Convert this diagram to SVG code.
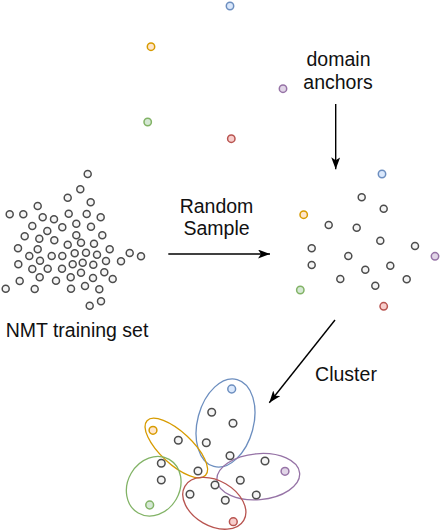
<svg xmlns="http://www.w3.org/2000/svg" width="440" height="530" viewBox="0 0 440 530">
<style>
.d{fill:#f5f5f5;stroke:#4d4d4d;stroke-width:1.5}
.b{fill:#dae8fc;stroke:#6c8ebf;stroke-width:1.5}
.o{fill:#ffe6cc;stroke:#d79b00;stroke-width:1.5}
.p{fill:#e1d5e7;stroke:#9673a6;stroke-width:1.5}
.g{fill:#d5e8d4;stroke:#82b366;stroke-width:1.5}
.r{fill:#f8cecc;stroke:#b85450;stroke-width:1.5}
.e{fill:none;stroke-width:1.3}
.t{font-family:"Liberation Sans",Arial,sans-serif;font-size:19.5px;fill:#111;text-anchor:middle}
.a{stroke:#000;stroke-width:1.4;fill:none;marker-end:url(#ah)}
</style>
<defs>
<marker id="ah" markerUnits="userSpaceOnUse" markerWidth="13" markerHeight="10" refX="12" refY="4.5" orient="auto">
<path d="M0,0 L12,4.5 L0,9 L3,4.5 Z" fill="#000"/>
</marker>
</defs>

<g id="training-set">
<circle class="d" cx="87.7" cy="174" r="3.5"/>
<circle class="d" cx="80.3" cy="189.3" r="3.5"/>
<circle class="d" cx="67.7" cy="197.7" r="3.5"/>
<circle class="d" cx="90.7" cy="202.3" r="3.5"/>
<circle class="d" cx="37.7" cy="206" r="3.5"/>
<circle class="d" cx="9.7" cy="214.3" r="3.5"/>
<circle class="d" cx="23.3" cy="214.3" r="3.5"/>
<circle class="d" cx="42.7" cy="217.3" r="3.5"/>
<circle class="d" cx="54" cy="219.3" r="3.5"/>
<circle class="d" cx="68.7" cy="213.7" r="3.5"/>
<circle class="d" cx="86.7" cy="214" r="3.5"/>
<circle class="d" cx="100.7" cy="217.3" r="3.5"/>
<circle class="d" cx="32.3" cy="226" r="3.5"/>
<circle class="d" cx="62.3" cy="227.3" r="3.5"/>
<circle class="d" cx="76.3" cy="223.7" r="3.5"/>
<circle class="d" cx="91" cy="226.7" r="3.5"/>
<circle class="d" cx="47.3" cy="231" r="3.5"/>
<circle class="d" cx="24.7" cy="236.3" r="3.5"/>
<circle class="d" cx="39.3" cy="238.7" r="3.5"/>
<circle class="d" cx="54.3" cy="240.3" r="3.5"/>
<circle class="d" cx="76.3" cy="235.3" r="3.5"/>
<circle class="d" cx="102.3" cy="235.3" r="3.5"/>
<circle class="d" cx="18" cy="248.3" r="3.5"/>
<circle class="d" cx="37.7" cy="249.3" r="3.5"/>
<circle class="d" cx="67.7" cy="244.7" r="3.5"/>
<circle class="d" cx="81" cy="242.7" r="3.5"/>
<circle class="d" cx="94" cy="243.7" r="3.5"/>
<circle class="d" cx="29.3" cy="256" r="3.5"/>
<circle class="d" cx="74.7" cy="253.3" r="3.5"/>
<circle class="d" cx="86" cy="252.7" r="3.5"/>
<circle class="d" cx="97" cy="254.7" r="3.5"/>
<circle class="d" cx="109.7" cy="249.3" r="3.5"/>
<circle class="d" cx="129.7" cy="253" r="3.5"/>
<circle class="d" cx="141" cy="256.3" r="3.5"/>
<circle class="d" cx="51.7" cy="256" r="3.5"/>
<circle class="d" cx="62.3" cy="256" r="3.5"/>
<circle class="d" cx="40" cy="260.7" r="3.5"/>
<circle class="d" cx="18.3" cy="264.3" r="3.5"/>
<circle class="d" cx="32.3" cy="269" r="3.5"/>
<circle class="d" cx="47.7" cy="268.7" r="3.5"/>
<circle class="d" cx="62" cy="268.7" r="3.5"/>
<circle class="d" cx="72.7" cy="264.3" r="3.5"/>
<circle class="d" cx="82.7" cy="262.7" r="3.5"/>
<circle class="d" cx="93.3" cy="264.7" r="3.5"/>
<circle class="d" cx="106" cy="261" r="3.5"/>
<circle class="d" cx="121" cy="261.3" r="3.5"/>
<circle class="d" cx="81" cy="272.7" r="3.5"/>
<circle class="d" cx="104.3" cy="272.3" r="3.5"/>
<circle class="d" cx="39.7" cy="277.3" r="3.5"/>
<circle class="d" cx="56" cy="280.7" r="3.5"/>
<circle class="d" cx="70.7" cy="277.3" r="3.5"/>
<circle class="d" cx="93" cy="278" r="3.5"/>
<circle class="d" cx="112.7" cy="279" r="3.5"/>
<circle class="d" cx="19.7" cy="281" r="3.5"/>
<circle class="d" cx="5.7" cy="288.7" r="3.5"/>
<circle class="d" cx="34.7" cy="289" r="3.5"/>
<circle class="d" cx="71" cy="288.7" r="3.5"/>
<circle class="d" cx="85" cy="286" r="3.5"/>
<circle class="d" cx="99.3" cy="289.3" r="3.5"/>
<circle class="d" cx="101" cy="301.3" r="3.5"/>
<circle class="d" cx="89.7" cy="305.7" r="3.5"/>
<text class="t" x="77" y="336.7">NMT training set</text>
</g>

<g id="domain-anchors">
<circle class="b" cx="230" cy="6" r="3.7"/>
<circle class="o" cx="151" cy="46.7" r="3.7"/>
<circle class="p" cx="283" cy="88.7" r="3.7"/>
<circle class="g" cx="147.7" cy="122" r="3.7"/>
<circle class="r" cx="231.3" cy="138.7" r="3.7"/>
<text class="t" x="338.5" y="65.7">domain</text>
<text class="t" x="338" y="89.3">anchors</text>
</g>

<g id="sample">
<circle class="b" cx="382" cy="174" r="3.7"/>
<circle class="d" cx="361.7" cy="197.3" r="3.5"/>
<circle class="d" cx="383.7" cy="208.7" r="3.5"/>
<circle class="o" cx="303.7" cy="214.7" r="3.7"/>
<circle class="d" cx="328.7" cy="225" r="3.5"/>
<circle class="d" cx="356.7" cy="227.7" r="3.5"/>
<circle class="d" cx="380.3" cy="240.7" r="3.5"/>
<circle class="d" cx="415" cy="246" r="3.5"/>
<circle class="p" cx="435" cy="256.3" r="3.7"/>
<circle class="d" cx="311.7" cy="248.3" r="3.5"/>
<circle class="d" cx="348.3" cy="256" r="3.5"/>
<circle class="d" cx="311.7" cy="265" r="3.5"/>
<circle class="d" cx="390.3" cy="265.7" r="3.5"/>
<circle class="d" cx="365.3" cy="269.7" r="3.5"/>
<circle class="d" cx="340.3" cy="279" r="3.5"/>
<circle class="d" cx="406.7" cy="279.3" r="3.5"/>
<circle class="d" cx="375.3" cy="285.7" r="3.5"/>
<circle class="g" cx="300.3" cy="290" r="3.7"/>
<circle class="r" cx="383.7" cy="306.3" r="3.7"/>
</g>

<g id="clusters">
<ellipse class="e" stroke="#6c8ebf" cx="225.5" cy="423" rx="28" ry="45" transform="rotate(15 225.5 423)"/>
<ellipse class="e" stroke="#d79b00" cx="176.3" cy="448" rx="40" ry="16" transform="rotate(43 176.3 448)"/>
<ellipse class="e" stroke="#82b366" cx="153.7" cy="486.2" rx="26" ry="31" transform="rotate(30 153.7 486.2)"/>
<ellipse class="e" stroke="#9673a6" cx="258.3" cy="476.7" rx="41.5" ry="23" transform="rotate(-5 258.3 476.7)"/>
<ellipse class="e" stroke="#b85450" cx="214.3" cy="503.3" rx="34" ry="22.6" transform="rotate(30 214.3 503.3)"/>
<circle class="b" cx="231.7" cy="389" r="3.9"/>
<circle class="d" cx="211.7" cy="412.3" r="3.8"/>
<circle class="d" cx="233" cy="423.3" r="3.8"/>
<circle class="d" cx="206.3" cy="442.7" r="3.8"/>
<circle class="d" cx="230" cy="455.7" r="3.8"/>
<circle class="o" cx="153" cy="430.3" r="3.9"/>
<circle class="d" cx="178.3" cy="440.3" r="3.8"/>
<circle class="d" cx="161.3" cy="463.3" r="3.8"/>
<circle class="d" cx="198" cy="471" r="3.8"/>
<circle class="d" cx="161.3" cy="480" r="3.8"/>
<circle class="g" cx="149.7" cy="505" r="3.9"/>
<circle class="d" cx="265" cy="461" r="3.8"/>
<circle class="p" cx="285" cy="471.3" r="3.9"/>
<circle class="d" cx="240.3" cy="480.3" r="3.8"/>
<circle class="d" cx="215" cy="485" r="3.8"/>
<circle class="d" cx="190" cy="494.3" r="3.8"/>
<circle class="d" cx="256.3" cy="495" r="3.8"/>
<circle class="d" cx="225.3" cy="500.3" r="3.8"/>
<circle class="r" cx="233.3" cy="521.7" r="3.9"/>
</g>

<g id="connectors">
<line class="a" x1="168.3" y1="254" x2="270" y2="254"/>
<text class="t" x="216.5" y="212.7">Random</text>
<text class="t" x="216.5" y="235">Sample</text>
<line class="a" x1="335.7" y1="104" x2="335.7" y2="169.3"/>
<line class="a" x1="335" y1="320" x2="269.3" y2="402.7"/>
<text class="t" x="346" y="380.7">Cluster</text>
</g>
</svg>
